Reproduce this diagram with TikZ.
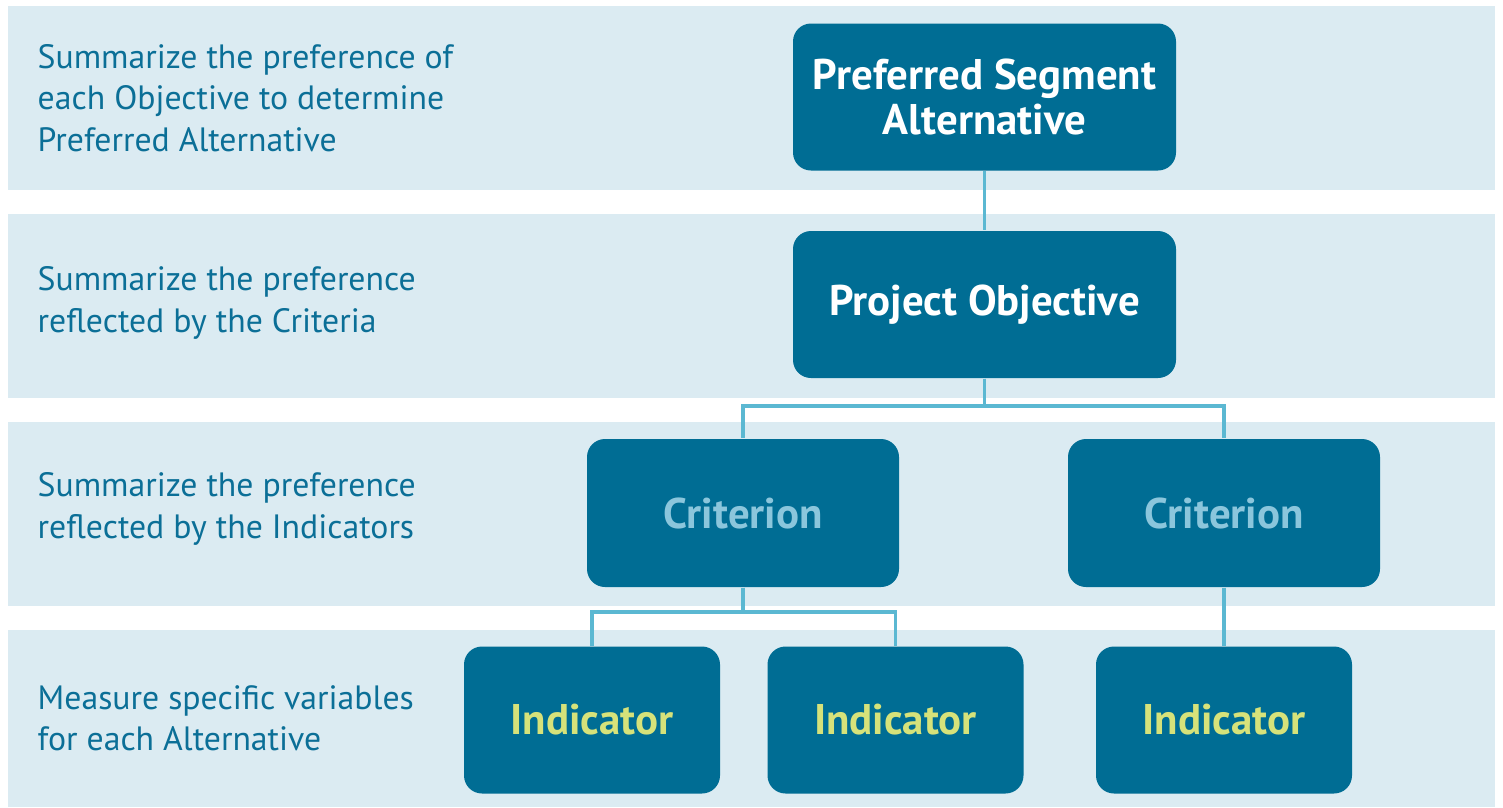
\documentclass[tikz,border=0pt]{standalone}
\usepackage{fontspec}
\setmainfont{PT Sans}
\newfontfamily\boxfont{PT Sans}
\usepackage{xcolor}
\definecolor{bandblue}{HTML}{DBEBF2}
\definecolor{boxblue}{HTML}{006D94}
\definecolor{linkblue}{HTML}{5BB8D2}
\definecolor{noteblue}{HTML}{0B6F97}
\definecolor{critblue}{HTML}{8BC6DC}
\definecolor{indyellow}{HTML}{D6E27A}

\begin{document}
\begin{tikzpicture}[
  band/.style={fill=bandblue,draw=none},
  note/.style={anchor=west,align=left,inner sep=0pt,text=noteblue,font=\fontsize{9.6}{11.8}\selectfont},
  level/.style={fill=boxblue,draw=none,rounded corners=0.18cm,align=center,
    font=\boxfont\bfseries\fontsize{12.2}{12.8}\selectfont,inner sep=0pt},
  link/.style={draw=linkblue,line width=1.1pt}
]
\useasboundingbox (0,0) rectangle (15.03,-8.07);

% bands
\fill[band] (0.08,-0.06) rectangle (14.95,-1.90);
\fill[band] (0.08,-2.14) rectangle (14.95,-3.98);
\fill[band] (0.08,-4.22) rectangle (14.95,-6.06);
\fill[band] (0.08,-6.30) rectangle (14.95,-8.07);

\node[note] (NoteA) at (0.37,-0.98) {Summarize the preference of\\each Objective to determine\\Preferred Alternative};
\node[note] (NoteB) at (0.37,-3.03) {Summarize the preference\\reflected by the Criteria};
\node[note] (NoteC) at (0.37,-5.09) {Summarize the preference\\reflected by the Indicators};
\node[note] (NoteD) at (0.37,-7.18) {Measure specific variables\\for each Alternative};

% boxes
\node[level,text=white,minimum width=3.83cm,minimum height=1.47cm] (Alternative) at (9.845,-0.97) {Preferred Segment\\Alternative};
\node[level,text=white,minimum width=3.83cm,minimum height=1.47cm] (Objective) at (9.845,-3.045) {Project Objective};

\node[level,text=critblue,minimum width=3.12cm,minimum height=1.48cm] (CriterionA) at (7.43,-5.13) {Criterion};
\node[level,text=critblue,minimum width=3.12cm,minimum height=1.48cm] (CriterionB) at (12.24,-5.13) {Criterion};

\node[level,text=indyellow,minimum width=2.56cm,minimum height=1.47cm] (IndicatorA1) at (5.92,-7.20) {Indicator};
\node[level,text=indyellow,minimum width=2.56cm,minimum height=1.47cm] (IndicatorA2) at (8.955,-7.20) {Indicator};
\node[level,text=indyellow,minimum width=2.56cm,minimum height=1.47cm] (IndicatorB) at (12.24,-7.20) {Indicator};

% links
\draw[link] (Alternative) -- (Objective);
\draw[link] (Objective.south) -- ++(0,-0.27) -| (CriterionA.north);
\draw[link] (Objective.south) -- ++(0,-0.27) -| (CriterionB.north);
\draw[link] (CriterionA.south) -- ++(0,-0.24) -| (IndicatorA1.north);
\draw[link] (CriterionA.south) -- ++(0,-0.24) -| (IndicatorA2.north);
\draw[link] (CriterionB) -- (IndicatorB);

\end{tikzpicture}
\end{document}
